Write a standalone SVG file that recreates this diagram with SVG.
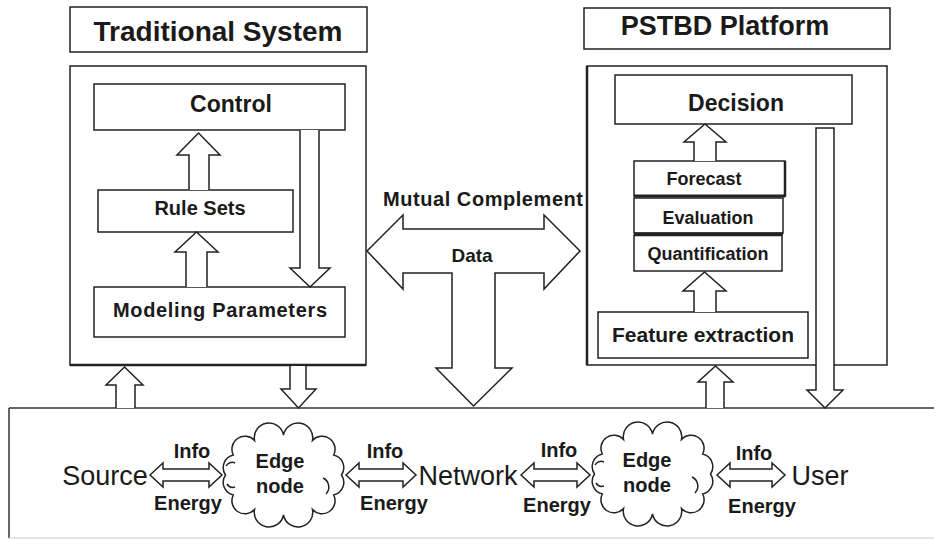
<svg xmlns="http://www.w3.org/2000/svg" xmlns:xlink="http://www.w3.org/1999/xlink" width="934" height="541" viewBox="0 0 934 541">
<style>
.bx{fill:#fff;stroke:#222;stroke-width:1.5}
.ar{fill:#fff;stroke:#222;stroke-width:1.5;stroke-linejoin:miter}
.b{font-family:"Liberation Sans",Arial,sans-serif;font-weight:bold;fill:#1a1a1a;text-anchor:middle}
.r{font-family:"Liberation Sans",Arial,sans-serif;fill:#1a1a1a;text-anchor:middle}
.cl{fill:#fff;stroke:#222;stroke-width:1.5}
.curl{fill:none;stroke:#222;stroke-width:1.5}
</style>
<defs>
<path id="cloud" d="M3.5,47 A13,13 0 0 1 11.3,27 A13,13 0 0 1 32.5,12.4 A13,13 0 0 1 61.5,7 A13,13 0 0 1 90.5,12.4 A13,13 0 0 1 111.7,27 A13,13 0 0 1 119.5,47 A13,13 0 0 1 111.7,67 A13,13 0 0 1 90.5,81.6 A13,13 0 0 1 61.5,87 A13,13 0 0 1 32.5,81.6 A13,13 0 0 1 11.3,67 A13,13 0 0 1 3.5,47 Z"/>
<g id="curls">
<path d="M4,38 a7,7 0 0 1 9,-3"/>
<path d="M5,56 a7,7 0 0 0 8,3"/>
<path d="M101,50 a10,10 0 0 1 3,16"/>
</g>
</defs>
<rect width="934" height="541" fill="#fff"/>

<g id="title-traditional">
<rect class="bx" x="70" y="7" width="297" height="45"/>
<text class="b" x="218" y="41" font-size="28">Traditional System</text>
</g>
<g id="traditional-system">
<rect class="bx" x="70" y="66" width="296" height="299"/>
<line x1="70" y1="365" x2="366" y2="365" stroke="#222" stroke-width="2.5"/>
</g>
<g id="control">
<rect class="bx" x="94" y="84" width="251" height="46"/>
<text class="b" x="231" y="112" font-size="23">Control</text>
</g>
<g id="rule-sets">
<rect class="bx" x="98" y="190" width="195" height="42"/>
<text class="b" x="200" y="215" font-size="20">Rule Sets</text>
</g>
<g id="modeling-parameters">
<rect class="bx" x="94" y="287" width="251" height="50"/>
<text class="b" x="220" y="317" font-size="20" textLength="214" lengthAdjust="spacing">Modeling Parameters</text>
</g>

<g id="title-pstbd">
<rect class="bx" x="584" y="8" width="306" height="41"/>
<text class="b" x="725" y="35" font-size="27">PSTBD Platform</text>
</g>
<g id="pstbd-platform">
<rect class="bx" x="587" y="66" width="300" height="299"/>
<line x1="587" y1="66" x2="587" y2="365" stroke="#222" stroke-width="2.5"/>
</g>
<g id="decision">
<rect class="bx" x="615" y="75" width="237" height="49"/>
<text class="b" x="736" y="111" font-size="23">Decision</text>
</g>
<g id="forecast">
<rect class="bx" x="634" y="161" width="151" height="35"/>
<line x1="634" y1="196" x2="785" y2="196" stroke="#222" stroke-width="3"/>
<line x1="785" y1="161" x2="785" y2="197" stroke="#222" stroke-width="2.5"/>
<text class="b" x="704" y="185" font-size="18">Forecast</text>
</g>
<g id="evaluation">
<rect class="bx" x="634" y="198" width="149" height="35"/>
<line x1="634" y1="234" x2="783" y2="234" stroke="#222" stroke-width="3"/>
<text class="b" x="708" y="224" font-size="18">Evaluation</text>
</g>
<g id="quantification">
<rect class="bx" x="634" y="235.5" width="148" height="35.5"/>
<text class="b" x="708" y="260" font-size="18">Quantification</text>
</g>
<g id="feature-extraction">
<rect class="bx" x="598" y="312" width="210" height="46"/>
<text class="b" x="703" y="342" font-size="21">Feature extraction</text>
</g>

<g id="data-exchange">
<path class="ar" d="M367,251 L403,215 V229 H544 V215 L580,251 L544,289 V273 H495 V368 H512 L473.5,406 L436,368 H452 V273 H403 V289 Z"/>
<text class="b" x="483" y="206" font-size="20" textLength="200" lengthAdjust="spacing">Mutual Complement</text>
<text class="b" x="472" y="262" font-size="19">Data</text>
</g>

<g id="physical-layer">
<line x1="9" y1="408" x2="934" y2="408" stroke="#666" stroke-width="2"/>
<line x1="9" y1="408" x2="9" y2="538" stroke="#333" stroke-width="1.5"/>
<line x1="9" y1="538" x2="934" y2="538" stroke="#ccc" stroke-width="1"/>
</g>

<g id="source"><text class="r" x="105" y="485" font-size="27">Source</text></g>
<g id="edge-node-1">
<use href="#cloud" xlink:href="#cloud" class="cl" transform="translate(222,428)"/>
<use href="#curls" xlink:href="#curls" class="curl" transform="translate(222,428)"/>
<text class="b" x="280" y="468" font-size="20">Edge</text>
<text class="b" x="280" y="493" font-size="20">node</text>
</g>
<g id="network"><text class="r" x="468" y="485" font-size="27">Network</text></g>
<g id="edge-node-2">
<use href="#cloud" xlink:href="#cloud" class="cl" transform="translate(591,427)"/>
<use href="#curls" xlink:href="#curls" class="curl" transform="translate(591,427)"/>
<text class="b" x="647" y="467" font-size="20">Edge</text>
<text class="b" x="647" y="492" font-size="20">node</text>
</g>
<g id="user"><text class="r" x="820" y="485" font-size="27">User</text></g>

<g id="connectors">
<path class="ar" d="M189,190 V155 H177 L198.5,133 L220,155 H209 V190"/>
<path class="ar" d="M300,130 V268 H290 L310,287 L330,268 H319 V130"/>
<path class="ar" d="M186,287 V252 H175 L196.5,232 L218,252 H207 V287"/>
<path class="ar" d="M116,408 V385 H106 L124.5,367 L143,385 H135 V408"/>
<path class="ar" d="M290,366 V389 H281 L298.5,408 L316,389 H306 V366"/>
<path class="ar" d="M694,161 V142 H684 L705,124 L726,142 H716 V161"/>
<path class="ar" d="M694,312 V291 H683 L704.5,272 L726,291 H716 V312"/>
<path class="ar" d="M816,128 H834 V390 H843 L825,408 L807,390 H816 Z"/>
<path class="ar" d="M706,408 V382 H698 L715.5,366 L733,382 H724 V408"/>

<path class="ar" d="M150,475 L163,463 V469 H209 V463 L222,475 L209,487 V481 H163 V487 Z"/>
<text class="b" x="192" y="458" font-size="20">Info</text>
<text class="b" x="188" y="510" font-size="20">Energy</text>

<path class="ar" d="M346,475 L359,463 V469 H403 V463 L416,475 L403,487 V481 H359 V487 Z"/>
<text class="b" x="385" y="458" font-size="20">Info</text>
<text class="b" x="394" y="510" font-size="20">Energy</text>

<path class="ar" d="M521,475 L534,463 V469 H577 V463 L590,475 L577,487 V481 H534 V487 Z"/>
<text class="b" x="559" y="457" font-size="20">Info</text>
<text class="b" x="557" y="512" font-size="20">Energy</text>

<path class="ar" d="M717,475 L730,463 V469 H772 V463 L785,475 L772,487 V481 H730 V487 Z"/>
<text class="b" x="754" y="460" font-size="20">Info</text>
<text class="b" x="762" y="513" font-size="20">Energy</text>
</g>
</svg>
